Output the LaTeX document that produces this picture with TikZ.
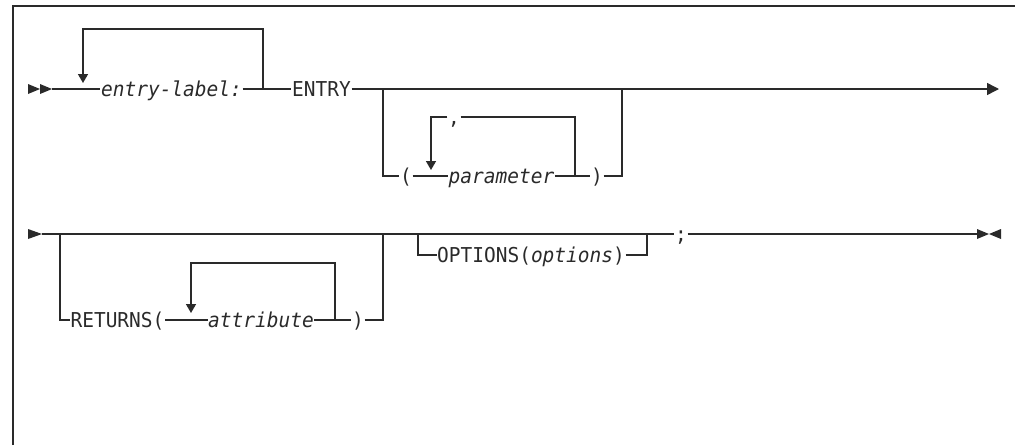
\documentclass[tikz,border=0pt]{standalone}
\usepackage{fontspec}
\newfontfamily\rrmono[FakeStretch=0.95,ItalicFont={DejaVu Sans Mono Oblique}]{DejaVu Sans Mono}
\usetikzlibrary{arrows.meta}
\definecolor{ink}{HTML}{2A2A2A}
\begin{document}
\begin{tikzpicture}[x=1pt,y=-1pt,
  ln/.style={draw=ink,line width=1.5pt},
  frame/.style={draw=ink,line width=2pt},
  kw/.style={inner xsep=0.5pt,inner ysep=0pt,text height=14.6pt,text depth=0pt,
    font=\rrmono\fontsize{20.5}{22}\selectfont,text=ink},
  var/.style={kw,font=\rrmono\fontsize{20.5}{22}\selectfont\itshape},
  tipd/.style={-{Triangle[length=9pt,width=10pt]}},
  tipe/.style={-{Triangle[length=12pt,width=12pt]}},
  tri/.style={fill=ink}]
\useasboundingbox (0,0) rectangle (1015,445);
% frame
\draw[frame] (13,445) -- (13,6) -- (1015,6);
% ---------- row 1 ----------
\fill[tri] (28,84) -- (40,89) -- (28,94) -- cycle;
\fill[tri] (40,84) -- (52,89) -- (40,94) -- cycle;
\coordinate (s1) at (52,89);
\coordinate (e1) at (999,89);
\node[var] (el) at (171.5,89) {entry-label:};
\node[kw] (en) at (321.5,89) {ENTRY};
\node[kw] (lp) at (406,176) {(};
\node[var] (par) at (501.5,176) {parameter};
\node[kw] (rp) at (597,176) {)};
\node[kw] (cm) at (454,117) {,};
\draw[ln] (s1) -- (el.west);
\coordinate (l1a) at (83,83);
\coordinate (l1r) at (263,89);
\coordinate (l1t) at (263,29);
\draw[ln,tipd] (l1r) -- (l1t) -| (l1a);
\draw[ln] (el.east) -- (en.west);
\draw[ln,tipe] (en.east) -- (e1);
\coordinate (o1l) at (383,89);
\coordinate (o1r) at (622,89);
\draw[ln] (o1l) |- (lp.west);
\draw[ln] (lp.east) -- (par.west);
\draw[ln] (par.east) -- (rp.west);
\draw[ln] (rp.east) -| (o1r);
\coordinate (l2a) at (431,170);
\coordinate (l2r) at (575,176);
\draw[ln,tipd] (cm.west) -| (l2a);
\draw[ln] (cm.east) -| (l2r);
% ---------- row 2 ----------
\fill[tri] (28,229) -- (42,234) -- (28,239) -- cycle;
\coordinate (s2) at (42,234);
\coordinate (e2) at (977,234);
\node[kw] (ret) at (117.5,320) {RETURNS(};
\node[var] (att) at (261,320) {attribute};
\node[kw] (rp2) at (358,320) {)};
\node[kw] (opt) at (531,255) {OPTIONS(\textit{options})};
\node[kw] (sc) at (681,234) {;};
\draw[ln] (s2) -- (sc.west);
\draw[ln] (sc.east) -- (e2);
\fill[tri] (977,229) -- (989,234) -- (977,239) -- cycle;
\fill[tri] (1001,229) -- (989,234) -- (1001,239) -- cycle;
\coordinate (o2l) at (60,234);
\coordinate (o2r) at (383,234);
\draw[ln] (o2l) |- (ret.west);
\draw[ln] (ret.east) -- (att.west);
\draw[ln] (att.east) -- (rp2.west);
\draw[ln] (rp2.east) -| (o2r);
\coordinate (l3a) at (191,313);
\coordinate (l3r) at (335,320);
\coordinate (l3t) at (335,263);
\draw[ln,tipd] (l3r) -- (l3t) -| (l3a);
\coordinate (o3l) at (418,234);
\coordinate (o3r) at (647,234);
\draw[ln] (o3l) |- (opt.west);
\draw[ln] (opt.east) -| (o3r);
\end{tikzpicture}
\end{document}
